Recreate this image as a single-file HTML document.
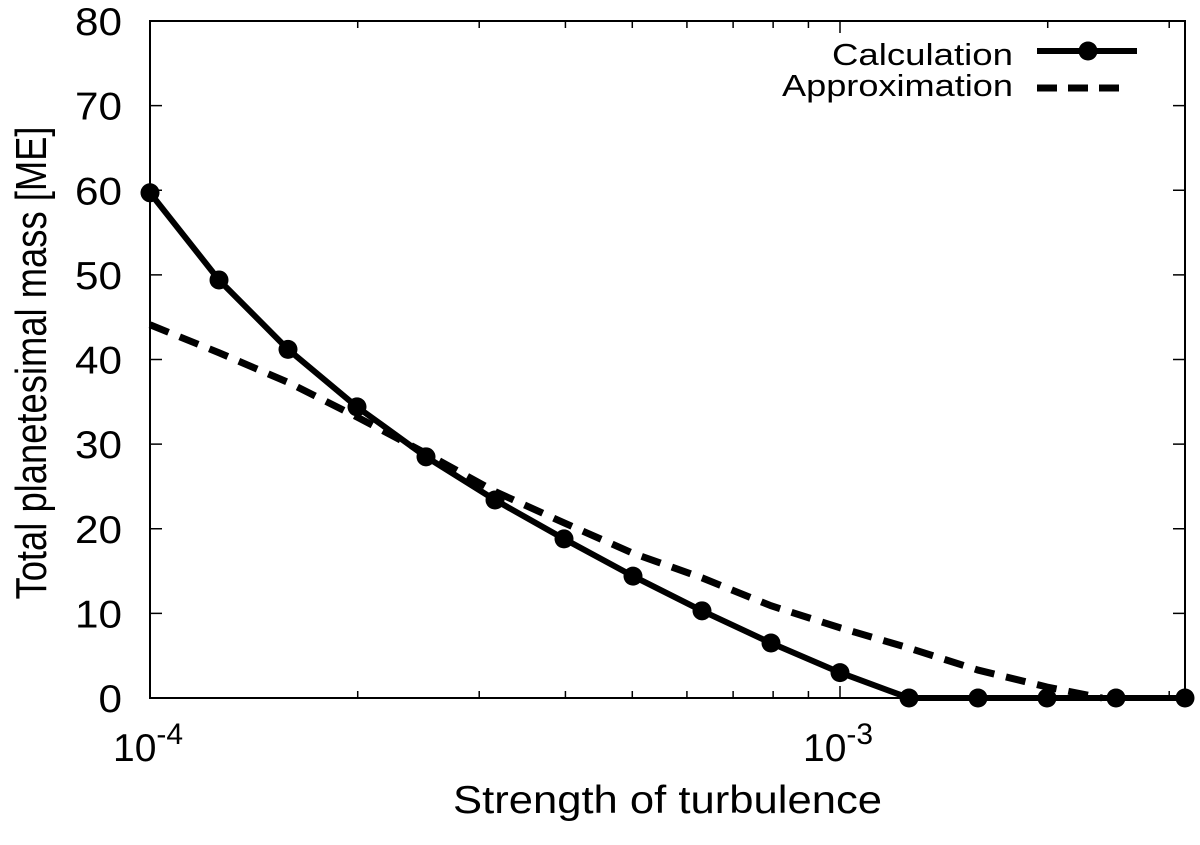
<!DOCTYPE html>
<html><head><meta charset="utf-8"><style>
html,body{margin:0;padding:0;background:#fff;}
svg text{font-family:"Liberation Sans","DejaVu Sans",sans-serif;fill:#000;}
</style></head><body>
<svg id="chart" width="1200" height="840" viewBox="0 0 1200 840" xmlns="http://www.w3.org/2000/svg">
<g id="axes"></g>
<g id="series"></g>
<g id="legend"></g>
<text x="0" y="0" transform="translate(46,363) rotate(-90)" text-anchor="middle" font-size="44" textLength="473" lengthAdjust="spacingAndGlyphs">Total planetesimal mass [ME]</text>
<text x="453" y="813" font-size="39" textLength="429" lengthAdjust="spacingAndGlyphs">Strength of turbulence</text>
</svg>
<script>
const calcExp = [-4,-3.9,-3.8,-3.7,-3.6,-3.5,-3.4,-3.3,-3.2,-3.1,-3.0,-2.9,-2.8,-2.7,-2.6,-2.5];
const calcValues = [59.7,49.4,41.2,34.4,28.5,23.4,18.8,14.4,10.3,6.5,3.0,0,0,0,0,0];
const approxExp = [-4,-3.9,-3.8,-3.7,-3.6,-3.5,-3.4,-3.3,-3.2,-3.1,-3.0,-2.9,-2.8,-2.7,-2.62];
const approxValues = [44.1,40.8,37.3,33.2,28.9,24.4,20.7,17.1,14.2,10.9,8.3,5.9,3.3,1.3,0];
const yTicks = [0,10,20,30,40,50,60,70,80];
const xMajorExp = [-4,-3];

const NS='http://www.w3.org/2000/svg';
const L=150,R=1185,T=21,B=698;
const xLogMin=-4,xLogMax=-2.5,yMin=0,yMax=80;
function xs(e){return L+(e-xLogMin)/(xLogMax-xLogMin)*(R-L);}
function ys(v){return B-(v-yMin)/(yMax-yMin)*(B-T);}
function mk(tag,attrs,parent){const el=document.createElementNS(NS,tag);for(const k in attrs)el.setAttribute(k,attrs[k]);parent.appendChild(el);return el;}
const axes=document.getElementById('axes');
const series=document.getElementById('series');
const legend=document.getElementById('legend');

const frame=mk('rect',{x:L,y:T,width:R-L,height:B-T,fill:'none',stroke:'#000','stroke-width':2},axes);



yTicks.forEach(v=>{
  const y=ys(v);
  const t1=mk('line',{x1:L,y1:y,x2:L+12,y2:y,stroke:'#000','stroke-width':1.5},axes);
  
  
  const t2=mk('line',{x1:R,y1:y,x2:R-12,y2:y,stroke:'#000','stroke-width':1.5},axes);
  
  
  const s=String(v);
  const lb=mk('text',{x:122,y:y+14,'text-anchor':'end','font-size':39,textLength:s.length*23.5,lengthAdjust:'spacingAndGlyphs'},axes);
  lb.textContent=s;
  
  
});

for(let d=-4;d<=-3;d++){
  for(let m=1;m<=9;m++){
    const e=d+Math.log10(m);
    if(e>xLogMax+1e-9)continue;
    const len=(m===1)?12:7;
    const x=xs(e);
    const t1=mk('line',{x1:x,y1:B,x2:x,y2:B-len,stroke:'#000','stroke-width':1.5},axes);
    
    
    const t2=mk('line',{x1:x,y1:T,x2:x,y2:T+len,stroke:'#000','stroke-width':1.5},axes);
    
    
  }
}
xMajorExp.forEach(e=>{
  const x=xs(e);
  const lb=mk('text',{x:x-37,y:761,'font-size':39},axes);
  
  
  const base=document.createElementNS(NS,'tspan');base.textContent='10';lb.appendChild(base);
  const sup=document.createElementNS(NS,'tspan');sup.setAttribute('dy','-17');sup.setAttribute('font-size','30');sup.textContent=String(e);lb.appendChild(sup);
});

const ap=approxExp.map((e,i)=>xs(e)+','+ys(approxValues[i])).join(' ');
const apl=mk('polyline',{points:ap,fill:'none',stroke:'#000','stroke-width':7,'stroke-dasharray':'20,12'},series);



const cp=calcExp.map((e,i)=>xs(e)+','+ys(calcValues[i])).join(' ');
const cpl=mk('polyline',{points:cp,fill:'none',stroke:'#000','stroke-width':6,'stroke-linejoin':'round'},series);


calcExp.forEach((e,i)=>{
  const c=mk('circle',{cx:xs(e),cy:ys(calcValues[i]),r:9.5,fill:'#000'},series);
  
  
});

const l1=mk('text',{x:832,y:65,'font-size':31,textLength:181,lengthAdjust:'spacingAndGlyphs'},legend);
l1.textContent='Calculation';


const ll1=mk('line',{x1:1037,y1:51,x2:1137,y2:51,stroke:'#000','stroke-width':6},legend);


const lc=mk('circle',{cx:1088,cy:51,r:9.5,fill:'#000'},legend);


const l2=mk('text',{x:782,y:96,'font-size':31,textLength:231,lengthAdjust:'spacingAndGlyphs'},legend);
l2.textContent='Approximation';


const ll2=mk('line',{x1:1037,y1:88,x2:1130,y2:88,stroke:'#000','stroke-width':7,'stroke-dasharray':'20,11'},legend);


</script>
</body></html>
